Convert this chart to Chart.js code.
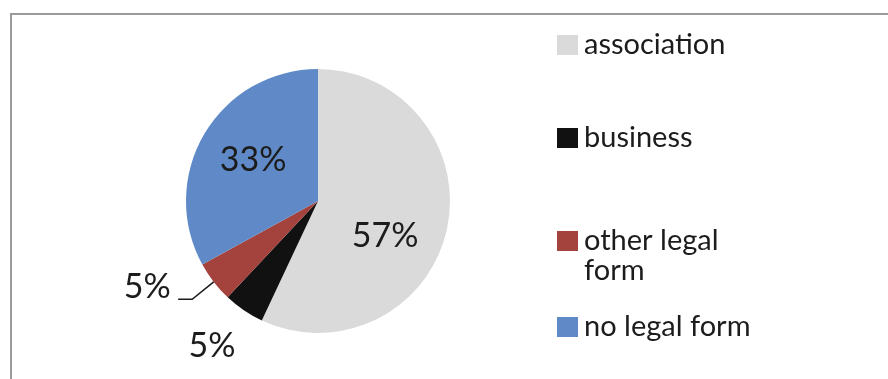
<!DOCTYPE html>
<html>
<head>
<meta charset="utf-8">
<script src="https://cdn.jsdelivr.net/npm/chart.js@4.4.0/dist/chart.umd.min.js"></script>
<style>
  html, body { margin: 0; padding: 0; background: #fff; }
  #wrap { position: relative; width: 888px; height: 379px; }
</style>
</head>
<body>
<div id="wrap"><canvas id="pieChart"></canvas></div>
<script>
// data
const categories = ['association', 'business', 'other legal form', 'no legal form'];
const shares = [57, 5, 5, 33];
const percentLabels = ['57%', '5%', '5%', '33%'];

const sliceColors = ['#DADADA', '#111111', '#A4423D', '#5F8AC7'];
const textColor = '#1c1c1c';

// where each percent label sits: fraction of radius + angle tweak (deg) from slice middle
const labelPlace = [
  { r: 0.575, da: 15.3, leader: false },
  { r: 1.36, da: 2, leader: false },
  { r: 1.45, da: 11, leader: true },
  { r: 0.58, da: 1.6, leader: false }
];

// frame lines (top + left) like the original figure
const framePlugin = {
  id: 'frame',
  beforeDraw(chart) {
    const ctx = chart.ctx;
    ctx.save();
    ctx.fillStyle = '#fff';
    ctx.fillRect(0, 0, chart.width, chart.height);
    ctx.strokeStyle = '#9a9a9a';
    ctx.lineWidth = 2;
    ctx.beginPath();
    ctx.moveTo(11, chart.height);
    ctx.lineTo(11, 14);
    ctx.lineTo(chart.width, 14);
    ctx.stroke();
    ctx.restore();
  }
};

const pctLabelPlugin = {
  id: 'pctLabels',
  afterDatasetsDraw(chart) {
    const ctx = chart.ctx;
    const meta = chart.getDatasetMeta(0);
    ctx.save();
    ctx.font = '34px Lato';
    ctx.fillStyle = textColor;
    ctx.textAlign = 'center';
    ctx.textBaseline = 'middle';
    meta.data.forEach((arc, i) => {
      const p = arc.getProps(['x', 'y', 'startAngle', 'endAngle', 'outerRadius'], true);
      const mid = (p.startAngle + p.endAngle) / 2;
      const a = mid + labelPlace[i].da * Math.PI / 180;
      const d = p.outerRadius * labelPlace[i].r;
      const lx = p.x + Math.cos(a) * d;
      const ly = p.y + Math.sin(a) * d;
      ctx.fillText(percentLabels[i], lx, ly);
      if (labelPlace[i].leader) {
        const ex = p.x + Math.cos(mid) * p.outerRadius;
        const ey = p.y + Math.sin(mid) * p.outerRadius;
        ctx.strokeStyle = textColor;
        ctx.lineWidth = 1.5;
        ctx.beginPath();
        ctx.moveTo(ex, ey);
        ctx.lineTo(lx + 45, ly + 12);
        ctx.lineTo(lx + 31, ly + 12);
        ctx.stroke();
      }
    });
    ctx.restore();
  }
};

// legend drawn on the right, spaced like the original
const legendRows = [45, 138, 241, 327];
const sideLegendPlugin = {
  id: 'sideLegend',
  afterDraw(chart) {
    const ctx = chart.ctx;
    ctx.save();
    ctx.font = '29px Lato';
    ctx.textBaseline = 'middle';
    categories.forEach((name, i) => {
      const y = legendRows[i];
      ctx.fillStyle = sliceColors[i];
      ctx.fillRect(557, y - 10, 21, 20);
      ctx.fillStyle = textColor;
      // wrap long names
      const words = name.split(' ');
      const lines = [];
      let line = '';
      words.forEach(w => {
        const test = line ? line + ' ' + w : w;
        if (ctx.measureText(test).width > 185 && line) {
          lines.push(line);
          line = w;
        } else {
          line = test;
        }
      });
      lines.push(line);
      lines.forEach((l, k) => ctx.fillText(l, 584, y + k * 30));
    });
    ctx.restore();
  }
};

new Chart(document.getElementById('pieChart'), {
  type: 'pie',
  data: {
    labels: categories,
    datasets: [{
      data: shares,
      backgroundColor: sliceColors,
      borderWidth: 0
    }]
  },
  options: {
    responsive: true,
    maintainAspectRatio: false,
    animation: false,
    layout: {
      padding: { left: 186, right: 438, top: 69, bottom: 46 }
    },
    plugins: {
      legend: { display: false },
      tooltip: { enabled: false }
    }
  },
  plugins: [framePlugin, pctLabelPlugin, sideLegendPlugin]
});
</script>
</body>
</html>
